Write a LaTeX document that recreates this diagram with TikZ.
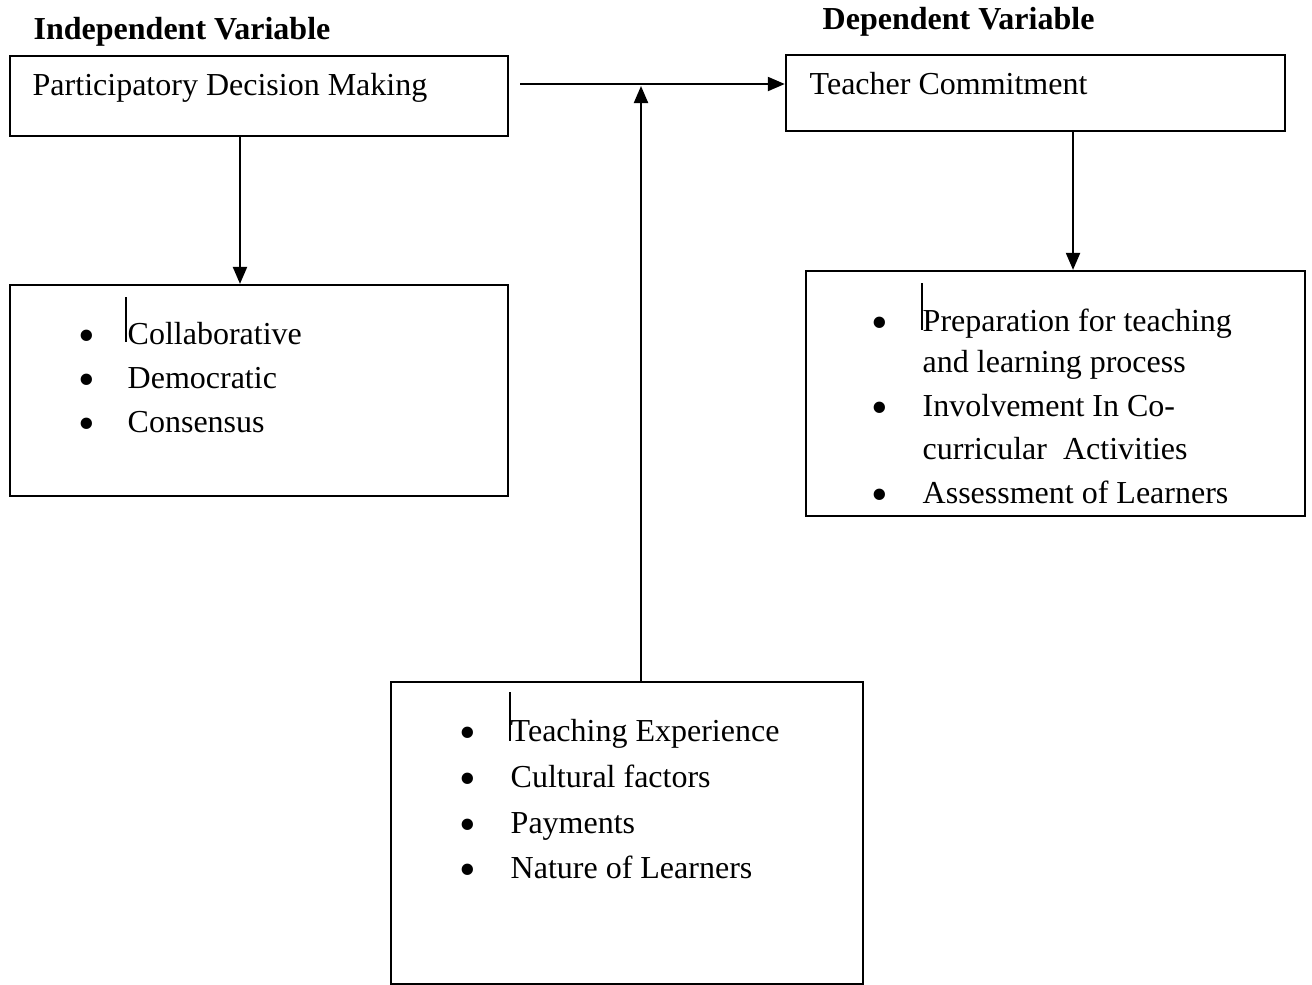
\documentclass[tikz,border=0pt]{standalone}
\usepackage{fontspec}
\setmainfont{Liberation Serif}
\usetikzlibrary{arrows.meta}

\begin{document}
\begin{tikzpicture}[x=0.01cm,y=-0.01cm,
    box/.style={draw,line width=0.6pt,inner sep=0pt},
    txt/.style={anchor=base west,inner sep=0pt,font=\fontsize{9.1}{11}\selectfont},
    head/.style={txt,font=\fontsize{9.1}{11}\selectfont\bfseries},
    blt/.style={anchor=base,inner sep=0pt,yshift=-0.07cm,font=\fontsize{13.5}{15}\selectfont},
    arr/.style={line width=0.6pt,-{Triangle[length=1.7mm,width=1.4mm]}},
    cursor/.style={line width=0.4pt}]
    \useasboundingbox (0,0) rectangle (1312,984);

    \node[head] (iv) at (33,39) {Independent Variable};
    \node[head] (dv) at (822,29.5) {Dependent Variable};

    \node[box,minimum width=4.98cm,minimum height=0.8cm] (pdm) at (259,96) {};
    \node[txt] (pdmt) at (32,95) {Participatory Decision Making};
    \node[box,minimum width=4.99cm,minimum height=0.76cm] (tc) at (1035.5,93) {};
    \node[txt] (tct) at (809,94) {Teacher Commitment};

    \node[box,minimum width=4.98cm,minimum height=2.11cm] (ind) at (259,390.5) {};
    \node[box,minimum width=4.99cm,minimum height=2.45cm] (dep) at (1055.5,393.5) {};
    \node[box,minimum width=4.72cm,minimum height=3.02cm] (mod) at (627,833) {};

    % independent indicators
    \node[blt] (b1) at (87,344) {\textbullet};
    \node[blt] (b2) at (87,388) {\textbullet};
    \node[blt] (b3) at (87,432.5) {\textbullet};
    \node[txt] (col) at (127,344) {Collaborative};
    \node[txt] (dem) at (127,388) {Democratic};
    \node[txt] (con) at (127,432.5) {Consensus};
    \draw[cursor] (126,297) -- (126,342);

    % dependent indicators
    \node[blt] (c1) at (880,331) {\textbullet};
    \node[blt] (c2) at (880,416.5) {\textbullet};
    \node[blt] (c3) at (880,503) {\textbullet};
    \node[txt] (prep) at (922,331) {Preparation for teaching};
    \node[txt] (prep2) at (922,372) {and learning process};
    \node[txt] (inv) at (922,416.5) {Involvement In Co-};
    \node[txt] (inv2) at (922,459) {curricular\ \ Activities};
    \node[txt] (ass) at (922,503) {Assessment of Learners};
    \draw[cursor] (922,283) -- (922,330);

    % intervening factors
    \node[blt] (d1) at (468,741.5) {\textbullet};
    \node[blt] (d2) at (468,787.5) {\textbullet};
    \node[blt] (d3) at (468,833) {\textbullet};
    \node[blt] (d4) at (468,878.5) {\textbullet};
    \node[txt] (exp) at (510,741.5) {Teaching Experience};
    \node[txt] (cul) at (510,787.5) {Cultural factors};
    \node[txt] (pay) at (510,833) {Payments};
    \node[txt] (nat) at (510,878.5) {Nature of Learners};
    \draw[cursor] (510,692) -- (510,741);

    \coordinate (start) at (520,84);
    \coordinate (join) at (641,86);

    \draw[arr] ([xshift=-0.19cm]pdm.south) -- ([xshift=-0.19cm]ind.north);
    \draw[arr] (start) -- (tc.west |- start);
    \draw[arr] (mod.north -| join) -- (join);
    \draw[arr] ([xshift=0.375cm]tc.south) -- ([xshift=0.375cm]tc.south |- dep.north);
\end{tikzpicture}
\end{document}
